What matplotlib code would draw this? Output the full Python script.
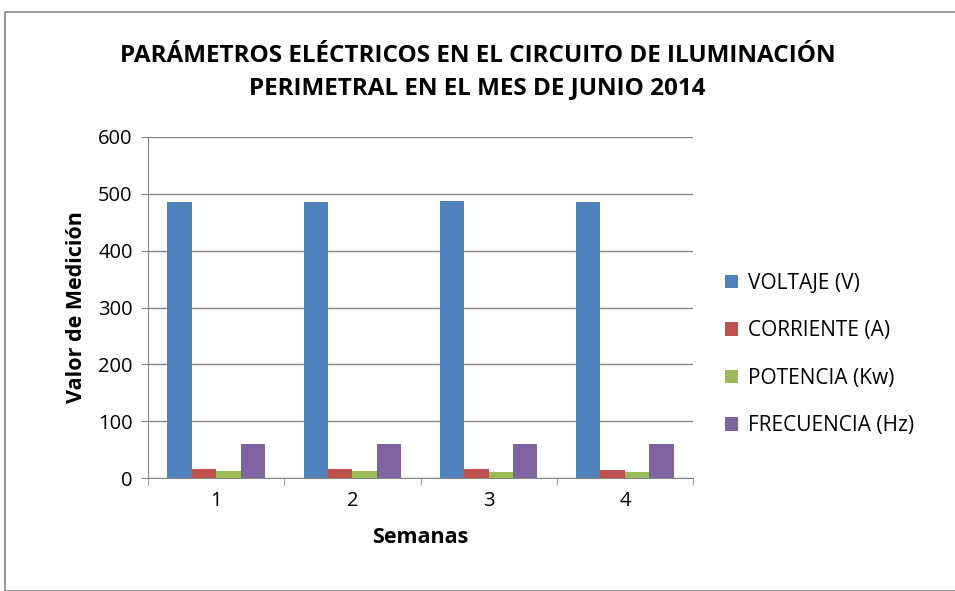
import matplotlib.pyplot as plt
import numpy as np
from matplotlib.patches import Rectangle

plt.rcParams['font.family'] = ['Open Sans', 'DejaVu Sans']

semanas = ['1', '2', '3', '4']
series = ['VOLTAJE (V)', 'CORRIENTE (A)', 'POTENCIA (Kw)', 'FRECUENCIA (Hz)']
voltaje = [485, 485, 487, 485]
corriente = [16, 16, 16, 14]
potencia = [13, 12, 11, 11]
frecuencia = [60, 60, 60, 60]
colores = ['#4F81BD', '#C0504D', '#9BBB59', '#8064A2']

fig = plt.figure(figsize=(9.55, 5.91), dpi=100)
ax = fig.add_axes([148/955, 1-478/591, 545/955, 341/591])

x = np.arange(len(semanas))
w = 0.179
valores = [voltaje, corriente, potencia, frecuencia]
for k, (nom, v, c) in enumerate(zip(series, valores, colores)):
    ax.bar(x + (k - 1.5)*w, v, w, color=c, label=nom, zorder=3)

ax.set_xlim(-0.5, 3.5)
ax.set_ylim(0, 600)
ax.set_yticks(range(0, 601, 100))
ax.set_xticks(x)
ax.set_xticklabels(semanas)
ax.set_xticks(np.arange(-0.5, 4, 1), minor=True)
ax.tick_params(axis='x', which='major', length=0, labelsize=14.5, pad=9)
ax.tick_params(axis='x', which='minor', length=5, color='#868686')
ax.tick_params(axis='y', length=5, color='#868686', labelsize=14.5, pad=6)
ax.grid(axis='y', color='#868686', lw=1, zorder=0)
for s in ['top', 'right']:
    ax.spines[s].set_visible(False)
for s in ['left', 'bottom']:
    ax.spines[s].set_color('#868686')

ax.set_xlabel('Semanas', fontsize=15.5, fontweight='bold', labelpad=12)
ax.set_ylabel('Valor de Medición', fontsize=15.5, fontweight='bold', labelpad=8)

fig.text(0.5, 1-72/591, 'PARÁMETROS ELÉCTRICOS EN EL CIRCUITO DE ILUMINACIÓN\nPERIMETRAL EN EL MES DE JUNIO 2014',
         ha='center', va='center', fontsize=17.5, fontweight='bold', linespacing=1.45)

ax.legend(loc='center left', bbox_to_anchor=(1.025, 0.362), frameon=False,
          fontsize=15, handlelength=0.6, handleheight=0.6, labelspacing=1.27, handletextpad=0.5)

fig.patches.append(Rectangle((5/955, 0), 1, 1-12/591, transform=fig.transFigure,
                             fill=False, edgecolor='#868686', lw=1.2))

fig.savefig('out.png', dpi=100)
